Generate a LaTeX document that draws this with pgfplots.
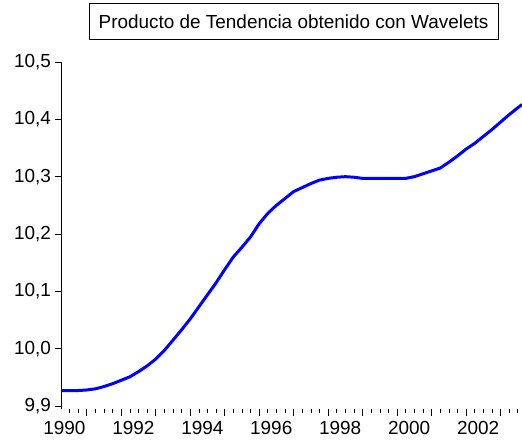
\documentclass[border=0pt]{standalone}
\usepackage{fontspec}
\setmainfont{Liberation Sans}
\usepackage{pgfplots}
\usepackage{pgfplotstable}
\pgfplotsset{compat=1.18}

% quarterly trend, 1990Q1 - 2003Q2
\pgfplotstableread{
year     val
1990.00  9.927
1990.25  9.927
1990.50  9.927
1990.75  9.928
1991.00  9.930
1991.25  9.934
1991.50  9.939
1991.75  9.945
1992.00  9.951
1992.25  9.960
1992.50  9.970
1992.75  9.982
1993.00  9.997
1993.25  10.015
1993.50  10.033
1993.75  10.052
1994.00  10.073
1994.25  10.094
1994.50  10.115
1994.75  10.138
1995.00  10.160
1995.25  10.177
1995.50  10.195
1995.75  10.218
1996.00  10.236
1996.25  10.250
1996.50  10.262
1996.75  10.274
1997.00  10.281
1997.25  10.288
1997.50  10.294
1997.75  10.297
1998.00  10.299
1998.25  10.300
1998.50  10.299
1998.75  10.297
1999.00  10.297
1999.25  10.297
1999.50  10.297
1999.75  10.297
2000.00  10.297
2000.25  10.300
2000.50  10.305
2000.75  10.310
2001.00  10.315
2001.25  10.325
2001.50  10.336
2001.75  10.348
2002.00  10.358
2002.25  10.370
2002.50  10.382
2002.75  10.395
2003.00  10.408
2003.25  10.420
2003.375 10.426
}\trend

\begin{document}
\begin{tikzpicture}[font=\fontsize{19}{22}\selectfont]
\begin{axis}[
    scale only axis, width=461bp, height=347bp,
    xmin=1990, xmax=2003.375, ymin=9.8948, ymax=10.5,
    axis x line*=bottom, axis y line*=left,
    x axis line style={draw=none}, y axis line style={-, line width=0.8bp},
    tick align=outside,
    major tick length=6.5bp, minor tick length=3.5bp,
    tick style={black, line width=0.8bp},
    ytick={9.9,10.0,10.1,10.2,10.3,10.4,10.5},
    yticklabel style={/pgf/number format/.cd, fixed, fixed zerofill,
        precision=1, use comma, assume math mode=true},
    xtick={1990.75,1991.75,...,2002.75}, xticklabels={},
    minor xtick={1990.25,1990.5,...,2003.25},
    extra x ticks={1990.1,1992.1,1994.1,1996.1,1998.1,2000.1,2002.1},
    extra x tick labels={1990,1992,1994,1996,1998,2000,2002},
    extra x tick style={major tick length=0pt, xticklabel style={yshift=-9bp}},
    ticklabel style={font=\fontsize{19}{22}\selectfont},
    clip=true,
]
\addplot[color={rgb,255:red,0;green,0;blue,255}, line width=3bp] table[x=year, y=val] {\trend};
\end{axis}
\node[draw, line width=0.8bp, minimum width=409bp, minimum height=36bp, inner sep=0pt]
    at (232.5bp,387.5bp) {Producto de Tendencia obtenido con Wavelets};
\pgfresetboundingbox
\path[use as bounding box] (-61bp,-32bp) rectangle (461bp,409bp);
\end{tikzpicture}
\end{document}
